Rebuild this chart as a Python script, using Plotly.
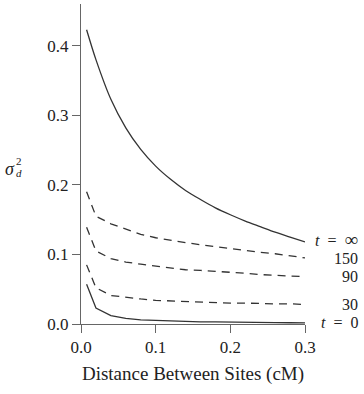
import plotly.graph_objects as go

distance = [0.0075, 0.02, 0.04, 0.06, 0.08, 0.10, 0.12, 0.14, 0.16, 0.18, 0.20, 0.22, 0.24, 0.26, 0.28, 0.30]

t_inf = [0.423, 0.380, 0.323, 0.282, 0.251, 0.227, 0.208, 0.192, 0.179, 0.167, 0.157, 0.148, 0.140, 0.132, 0.125, 0.118]
t_150 = [0.190, 0.155, 0.144, 0.136, 0.129, 0.124, 0.120, 0.117, 0.114, 0.111, 0.109, 0.106, 0.103, 0.101, 0.098, 0.095]
t_90 = [0.139, 0.105, 0.094, 0.089, 0.086, 0.083, 0.080, 0.078, 0.077, 0.076, 0.074, 0.073, 0.071, 0.070, 0.069, 0.068]
t_30 = [0.085, 0.052, 0.041, 0.038, 0.036, 0.034, 0.033, 0.032, 0.031, 0.031, 0.030, 0.030, 0.029, 0.029, 0.029, 0.028]
t_0 = [0.057, 0.023, 0.012, 0.008, 0.006, 0.005, 0.004, 0.0035, 0.003, 0.003, 0.0025, 0.0022, 0.002, 0.002, 0.0018, 0.0017]

labels = ["<i>t</i>\u2002=\u2002<span style='font-size:19px'>∞</span>", "150", "90", "30", "<i>t</i>\u2002=\u20020"]
values = [t_inf, t_150, t_90, t_30, t_0]
dashes = ["solid", "8px,6px", "8px,6px", "8px,6px", "solid"]
shapes = ["spline", "linear", "linear", "linear", "linear"]
label_shift = [2, -1, 0, 0, 0]

x_ticks = [0.0, 0.1, 0.2, 0.3]
y_ticks = [0.0, 0.1, 0.2, 0.3, 0.4]

FONT = "Liberation Serif"
fig = go.Figure()
for name, vals, dash, shp, ys in zip(labels, values, dashes, shapes, label_shift):
    fig.add_trace(go.Scatter(x=distance, y=vals, mode="lines",
                             line=dict(color="#333333", width=1.3, dash=dash, shape=shp, smoothing=0.8),
                             showlegend=False, cliponaxis=False))
    fig.add_annotation(x=1.247, xref="paper", y=vals[-1], yref="y", yshift=ys,
                       text=name, showarrow=False, xanchor="right", yanchor="middle",
                       font=dict(family=FONT, size=16, color="#222222"))

# y-axis label sigma_d^2
fig.add_annotation(x=-0.317, xref="paper", y=0.484, yref="paper", text="<i>σ</i>",
                   showarrow=False, xanchor="center", yanchor="middle",
                   font=dict(family=FONT, size=18, color="#222222"))
fig.add_annotation(x=-0.276, xref="paper", y=0.509, yref="paper", text="2",
                   showarrow=False, xanchor="center", yanchor="middle",
                   font=dict(family=FONT, size=11, color="#222222"))
fig.add_annotation(x=-0.276, xref="paper", y=0.472, yref="paper", text="<i>d</i>",
                   showarrow=False, xanchor="center", yanchor="middle",
                   font=dict(family=FONT, size=11, color="#222222"))

fig.update_layout(
    width=364, height=394,
    margin=dict(l=81, r=59, t=4, b=70),
    paper_bgcolor="white", plot_bgcolor="white",
    font=dict(family=FONT, size=17, color="#222222"),
    xaxis=dict(range=[0, 0.3], tickvals=x_ticks, ticktext=[f"{v:.1f}" for v in x_ticks],
               showgrid=False, zeroline=False, showline=True, linecolor="#666666", linewidth=1,
               ticks="outside", ticklen=8, tickcolor="#666666",
               title=dict(text="Distance Between Sites (cM)", font=dict(family=FONT, size=19), standoff=10)),
    yaxis=dict(range=[0, 0.46], tickvals=y_ticks, ticktext=[f"{v:.1f}" for v in y_ticks],
               showgrid=False, zeroline=False, showline=True, linecolor="#666666", linewidth=1,
               ticks="outside", ticklen=8, tickcolor="#666666"),
)

fig.write_html("out.html")
